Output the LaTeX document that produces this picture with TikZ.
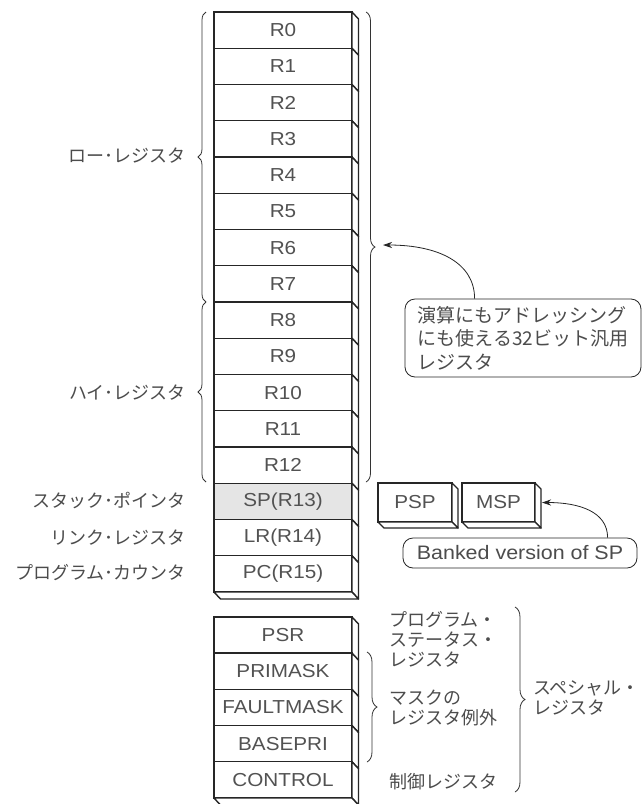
\documentclass[tikz,border=0pt]{standalone}
\usepackage{fontspec}
\setmainfont{Liberation Sans}
\newfontfamily\jp{Noto Sans CJK JP}
\newfontfamily\regfont[FakeStretch=1.1]{Liberation Sans}
\usetikzlibrary{decorations.pathreplacing,arrows.meta,calc}
\begin{document}
\begin{tikzpicture}[x=1pt,y=-1pt,
  reg/.style={draw=black!85,line width=1.4pt,fill=white,minimum width=138pt,minimum height=36.25pt,inner sep=0pt,outer sep=0pt,font=\regfont\fontsize{18.8}{20}\selectfont,text=black!68},
  side/.style={draw=black!85,line width=1.4pt,line join=round,fill=white},
  lbl/.style={font=\jp\fontsize{18}{20}\selectfont,text=black!70,inner sep=0pt,align=left},
  brc/.style={draw=black!80,line width=0.8pt,decorate,decoration={brace,amplitude=#1}},
  arr/.style={draw=black!85,line width=0.8pt,-{Stealth[length=9pt,width=6pt]}},
  callout/.style={draw=black!85,line width=0.8pt,rounded corners=10pt,inner sep=0pt}
]
\useasboundingbox (0,0) rectangle (642,804);
\fill[white] (0,0) rectangle (642,804);
\def\dx{6.5}
\def\dy{7}
% main register stack
\foreach \t [count=\i from 0] in {R0,R1,R2,R3,R4,R5,R6,R7,R8,R9,R10,R11,R12,SP(R13),LR(R14),PC(R15)} {
  \ifnum\i=13 \def\fc{black!10}\else\def\fc{white}\fi
  \node[reg,fill=\fc] (r\i) at (283,{30.125+\i*36.25}) {\t};
  \path[side] (r\i.north east) -- ++(\dx,\dy) -- ++(0,36.25) -- (r\i.south east) -- cycle;
}
\path[side] (r15.south west) -- ++(\dx,\dy) -- ++(138,0) -- (r15.south east) -- cycle;
% special registers
\foreach \t [count=\i from 0] in {PSR,PRIMASK,FAULTMASK,BASEPRI,CONTROL} {
  \node[reg] (s\i) at (283,{635.1+\i*36.2}) {\t};
  \path[side] (s\i.north east) -- ++(\dx,\dy) -- ++(0,36.2) -- (s\i.south east) -- cycle;
}
\path[side] (s4.south west) -- ++(\dx,\dy) -- ++(138,0) -- (s4.south east) -- cycle;
% PSP / MSP
\node[reg,minimum width=74pt,minimum height=39pt] (psp) at (415,502.5) {PSP};
\node[reg,minimum width=73pt,minimum height=39pt] (msp) at (498.5,502.5) {MSP};
\foreach \n/\w in {psp/74,msp/73} {
  \path[side] (\n.north east) -- ++(6,6) -- ++(0,39) -- (\n.south east) -- cycle;
  \path[side] (\n.south west) -- ++(6,6) -- ++(\w,0) -- (\n.south east) -- cycle;
}
% braces
\draw[brc=8] (206,302) -- (206,12);
\draw[brc=8] (206,482) -- (206,302);
\draw[brc=9] (366,12) -- (366,482);
\draw[brc=10] (367,652) -- (367,762);
\draw[brc=10] (515,607) -- (515,792);
% left labels
\node[lbl,anchor=east] (llo) at (186,156) {ロー･レジスタ};
\node[lbl,anchor=east] (lhi) at ([xshift=-28pt]r10.west) {ハイ･レジスタ};
\node[lbl,anchor=east] (lsp) at ([xshift=-28pt,yshift=1pt]r13.west) {スタック･ポインタ};
\node[lbl,anchor=east] (llr) at ([xshift=-28pt]r14.west) {リンク･レジスタ};
\node[lbl,anchor=east] (lpc) at ([xshift=-28pt,yshift=1pt]r15.west) {プログラム･カウンタ};
% lower labels
\node[lbl,anchor=west] (lpsr) at (389,639) {プログラム・\\ステータス・\\レジスタ};
\node[lbl,anchor=west] (lmask) at (389,707.5) {マスクの\\レジスタ例外};
\node[lbl,anchor=west] (lctl) at (389,782) {制御レジスタ};
\node[lbl,anchor=west] (lspc) at (533,697.5) {スペシャル・\\レジスタ};
% callouts
\node[callout,minimum width=236pt,minimum height=78pt,align=left,font=\jp\fontsize{19}{23.5}\selectfont,text=black!70] (note) at (523,338) {演算にもアドレッシング\\にも使える32ビット汎用\\レジスタ};
\node[callout,minimum width=234pt,minimum height=30pt,font=\regfont\fontsize{19.5}{20}\selectfont,text=black!70] (bank) at (520,553) {Banked version of SP};
\coordinate (tipA) at (383,245);
\coordinate (tipB) at ([xshift=7pt]msp.east);
\draw[arr] ($(note.north west)+(70,0)$) .. controls +(0,-35) and +(57,0) .. (tipA);
\draw[arr] ($(bank.north west)+(205,0)$) .. controls +(0,-26) and +(37,0) .. (tipB);
\end{tikzpicture}
\end{document}
